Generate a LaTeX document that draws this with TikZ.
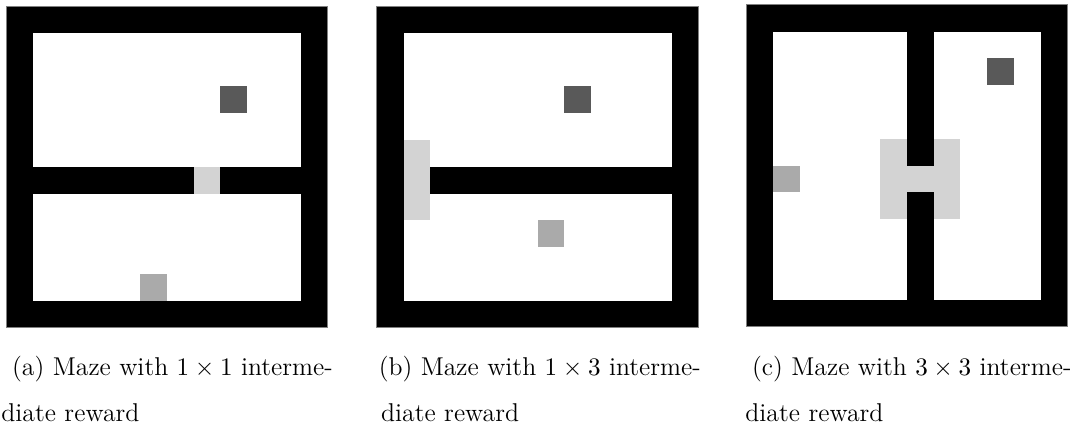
\documentclass[tikz,border=0pt]{standalone}
\usepackage{amsmath}
\usepackage{xcolor}
\definecolor{goalgray}{RGB}{89,89,89}
\definecolor{startgray}{RGB}{170,170,170}
\definecolor{bonusgray}{RGB}{211,211,211}

\begin{document}
\begin{tikzpicture}[x=0.435pt, y=-0.435pt,
  grid/.style={x=11.66pt, y=-11.66pt},
  wall/.style={fill=black},
  goal/.style={fill=goalgray},
  start/.style={fill=startgray},
  bonus/.style={fill=bonusgray},
  frame/.style={draw=gray, line width=0.4pt},
  caption/.style={anchor=base west, inner sep=0pt, font=\fontsize{11.2}{14}\selectfont}]
\useasboundingbox (0,0) rectangle (1083,427);
% maze (a)
\begin{scope}[shift={(6,6)}, grid]
\fill[wall] (0,0) rectangle (12,12);
\fill[white] (1,1) rectangle (11,11);
\fill[wall] (1,6) rectangle (11,7);
\fill[bonus] (7,6) rectangle (8,7);
\fill[goal] (8,3) rectangle (9,4);
\fill[start] (5,10) rectangle (6,11);
\draw[frame] (0,0) rectangle (12,12);
\end{scope}
% maze (b)
\begin{scope}[shift={(376.7,6)}, grid]
\fill[wall] (0,0) rectangle (12,12);
\fill[white] (1,1) rectangle (11,11);
\fill[wall] (2,6) rectangle (11,7);
\fill[bonus] (1,5) rectangle (2,8);
\fill[goal] (7,3) rectangle (8,4);
\fill[start] (6,8) rectangle (7,9);
\draw[frame] (0,0) rectangle (12,12);
\end{scope}
% maze (c)
\begin{scope}[shift={(746,4.7)}, grid]
\fill[wall] (0,0) rectangle (12,12);
\fill[white] (1,1) rectangle (11,11);
\fill[bonus] (5,5) rectangle (8,8);
\fill[wall] (6,1) rectangle (7,6);
\fill[wall] (6,7) rectangle (7,11);
\fill[goal] (9,2) rectangle (10,3);
\fill[start] (1,6) rectangle (2,7);
\draw[frame] (0,0) rectangle (12,12);
\end{scope}
\node[caption] (capa) at (11.7,375) {(a) Maze with $1\times 1$ interme-};
\node[caption] (capa2) at (1,421.7) {diate reward};
\node[caption] (capb) at (378.3,375) {(b) Maze with $1\times 3$ interme-};
\node[caption] (capb2) at (380.7,421.7) {diate reward};
\node[caption] (capc) at (751.7,375) {(c) Maze with $3\times 3$ interme-};
\node[caption] (capc2) at (745,421.7) {diate reward};
\end{tikzpicture}
\end{document}
